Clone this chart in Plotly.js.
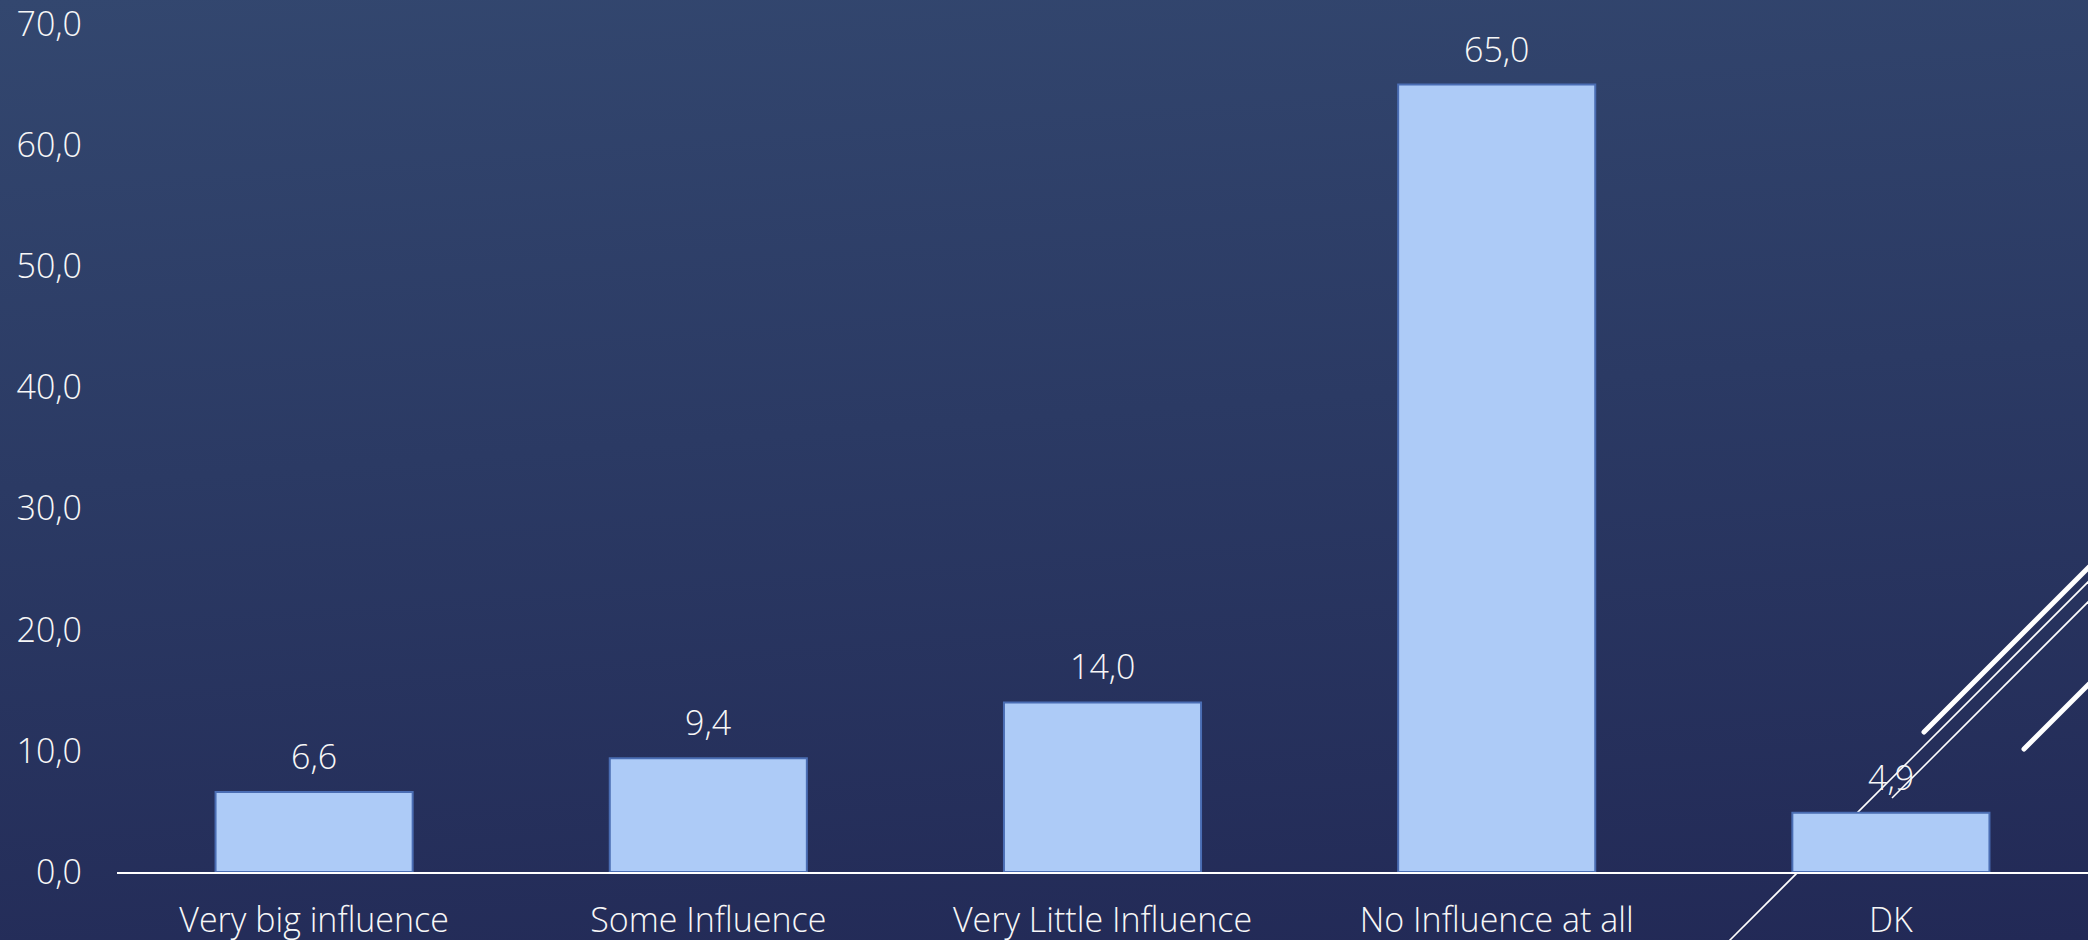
<!DOCTYPE html>
<html>
<head>
<meta charset="utf-8">
<script src="https://cdn.plot.ly/plotly-3.0.1.min.js"></script>
<style>
  html, body { margin: 0; padding: 0; width: 2088px; height: 940px; overflow: hidden; }
  body { background: linear-gradient(176deg, #33476f 0%, #2b3a64 45%, #222956 100%); position: relative; }
  #deco { position: absolute; left: 0; top: 0; width: 2088px; height: 940px; z-index: 0; }
  #chart { position: absolute; left: 0; top: 0; width: 2088px; height: 940px; z-index: 1; }
</style>
</head>
<body>
<svg id="deco" width="2088" height="940">
  <line x1="1924" y1="732" x2="2100" y2="556" stroke="#ffffff" stroke-width="5" stroke-linecap="round"/>
  <line x1="1727" y1="943" x2="2100" y2="570" stroke="#ffffff" stroke-width="1.6"/>
  <line x1="1892" y1="798" x2="2100" y2="590" stroke="#ffffff" stroke-width="1.6"/>
  <line x1="2024" y1="749" x2="2100" y2="673" stroke="#ffffff" stroke-width="5" stroke-linecap="round"/>
</svg>
<div id="chart"></div>
<script>
const categories = ["Very big influence", "Some Influence", "Very Little Influence", "No Influence at all", "DK"];
const values = [6.6, 9.4, 14.0, 65.0, 4.9];
const yTickValues = [0, 10, 20, 30, 40, 50, 60, 70];

const fontFamily = '"Open Sans", "Liberation Sans", sans-serif';
const textColor = '#f7f7f7';
const fontSize = 34;

const trace = {
  type: 'bar',
  x: categories,
  y: values,
  width: 0.5,
  marker: { color: '#adcbf7', line: { color: '#4a6db3', width: 2 } },
  hoverinfo: 'none'
};

const annotations = categories.map((c, i) => ({
  x: c, y: values[i], xref: 'x', yref: 'y',
  text: values[i].toFixed(1).replace('.', ','),
  showarrow: false, yanchor: 'middle', yshift: 36,
  font: { family: fontFamily, size: fontSize, color: textColor, weight: 300 }
}));

const layout = {
  width: 2088, height: 940,
  margin: { l: 117, r: 0, t: 23.5, b: 68, pad: 0 },
  paper_bgcolor: 'rgba(0,0,0,0)',
  plot_bgcolor: 'rgba(0,0,0,0)',
  separators: ', ',
  showlegend: false,
  font: { family: fontFamily, size: fontSize, color: textColor, weight: 300 },
  xaxis: {
    type: 'category',
    showline: true, linecolor: '#ffffff', linewidth: 2,
    showgrid: false, zeroline: false,
    ticks: '', ticklabelstandoff: 17, ticklabeloverflow: 'allow',
    tickfont: { family: fontFamily, size: fontSize, color: textColor, weight: 300 },
    fixedrange: true
  },
  yaxis: {
    range: [0, 70],
    tickvals: yTickValues,
    tickformat: '.1f',
    showgrid: false, zeroline: false, showline: false,
    ticks: '', ticklabelstandoff: 34, ticklabeloverflow: 'allow',
    tickfont: { family: fontFamily, size: fontSize, color: textColor, weight: 300 },
    fixedrange: true
  },
  annotations: annotations
};

Plotly.newPlot('chart', [trace], layout, { displayModeBar: false, staticPlot: true });
</script>
</body>
</html>
